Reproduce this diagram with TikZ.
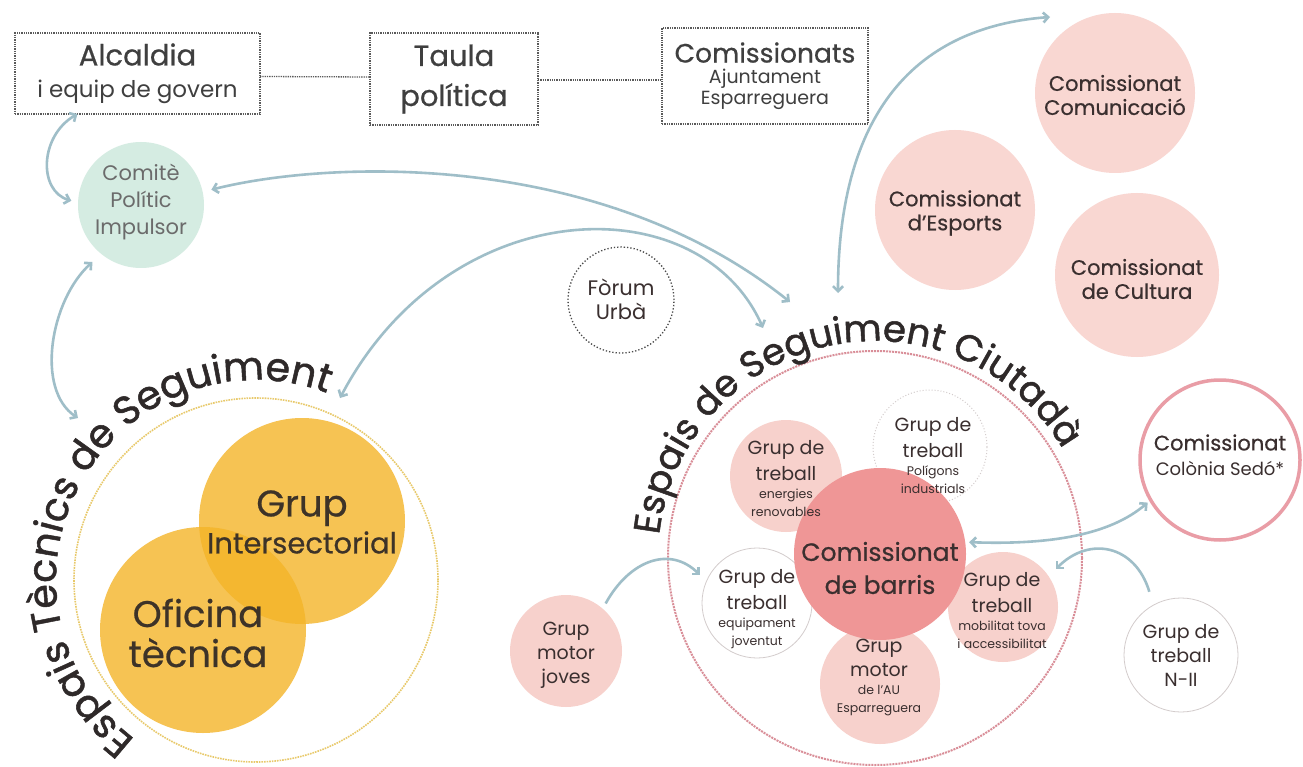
\documentclass[tikz,border=0pt]{standalone}
\usepackage{fontspec}
\setmainfont{Poppins}
\newfontfamily\titlef[FakeBold=1.3]{Poppins}
\newfontfamily\medf[FakeBold=0.6]{Poppins}
\usetikzlibrary{arrows.meta,decorations.text,calc}
\newcommand\fsz[2]{\fontsize{#1}{#2}\selectfont}
\definecolor{boxgray}{HTML}{5A5A5A}
\definecolor{boxtext}{HTML}{3F3F3F}
\definecolor{textdark}{HTML}{3A2F2F}
\definecolor{comtext}{HTML}{6B6B6B}
\definecolor{arrowc}{HTML}{9FBEC8}
\definecolor{mint}{HTML}{D5ECE2}
\definecolor{pinkC}{HTML}{F9D7D2}
\definecolor{pinkL}{HTML}{F7D1CC}
\definecolor{barrisC}{HTML}{EF9696}
\definecolor{sedoC}{HTML}{E99DA6}
\definecolor{yel}{HTML}{F4B428}
\definecolor{yeldot}{HTML}{E8C96A}
\definecolor{pinkdot}{HTML}{D98E98}
\definecolor{foradot}{HTML}{4A4A4A}
\definecolor{lightline}{HTML}{D3CCCC}
\definecolor{titlec}{HTML}{2E2929}
\definecolor{yeltext}{HTML}{3D3328}
\begin{document}
\begin{tikzpicture}[x=1pt,y=-1pt,
  box/.style={draw=boxgray, densely dotted, line width=1.3pt, inner sep=0pt, outer sep=0pt, align=center, text=boxtext},
  circ/.style={circle, inner sep=0pt, outer sep=0pt, minimum size=#1},
  txt/.style={align=center, text=textdark, inner sep=0pt, outer sep=0pt},
  arr/.style={draw=arrowc, line width=2.6pt, >={Straight Barb[length=5pt,width=10pt]}},
  conn/.style={draw=boxgray, densely dotted, line width=1.3pt}]
\fill[white] (0,0) rectangle (1303,767);
\useasboundingbox (0,0) rectangle (1303,767);

% big group circles
\node[circ=364pt, draw=yeldot, densely dotted, line width=1.6pt] (tecn) at (256,580) {};
\node[circ=414pt, draw=pinkdot, densely dotted, line width=2pt] (ciut) at (875,558) {};
\node[circ=206pt, fill=yel, fill opacity=0.8] (grup) at (302,521) {};
\node[circ=206pt, fill=yel, fill opacity=0.8] (ofic) at (203,630) {};

% other circles
\node[circ=126pt, fill=mint] (comite) at (141,205) {};
\node[circ=160pt, fill=pinkC] (comunic) at (1115,93) {};
\node[circ=160pt, fill=pinkC] (esports) at (955,210) {};
\node[circ=164pt, fill=pinkC] (cultura) at (1137,275) {};
\node[circ=160pt, draw=sedoC, line width=3.5pt, fill=white] (sedo) at (1220,460) {};
\node[circ=114pt, draw=lightline, line width=0.8pt] (n2) at (1181,655) {};
\node[circ=112pt, fill=pinkL] (joves) at (566,651) {};
\node[circ=106pt, draw=foradot, dotted, line width=1.3pt] (forum) at (621,300) {};
\node[circ=112pt, fill=pinkL] (energ) at (786,476) {};
\node[circ=114pt, draw=lightline, dotted, line width=1pt] (polig) at (930,447) {};
\node[circ=110pt, draw=lightline, line width=0.8pt] (equip) at (757,603) {};
\node[circ=110pt, fill=pinkL] (mob) at (1003,607) {};
\node[circ=120pt, fill=pinkL] (motor) at (880,684) {};
\node[circ=172pt, fill=barrisC] (barris) at (880,554) {};

% boxes
\node[box, minimum width=245pt, minimum height=81pt, font=\fsz{23}{32}] (alc) at (137.5,73.5) {{\medf\fsz{29}{30}Alcaldia}\\i equip de govern};
\node[box, minimum width=168pt, minimum height=92pt, font=\medf\fsz{29}{40}] (taula) at (454,79) {Taula\\política};
\node[box, minimum width=206pt, minimum height=96pt, font=\fsz{19}{21}] (comiss) at (765,76) {{\medf\fsz{26.5}{30}Comissionats}\\Ajuntament\\Esparreguera};
\draw[conn] ([yshift=-3pt]alc.east) -- ([yshift=2pt]taula.west);
\draw[conn] ([yshift=-1pt]taula.east) -- ([yshift=-4pt]comiss.west);

% arrow free ends
\coordinate (tIn) at (78,418);
\coordinate (tOut) at (340,398);
\coordinate (cIn1) at (790,302);
\coordinate (cIn2) at (763,328);
\coordinate (cOut) at (838,293);
\coordinate (comTip) at (1050,17);

\draw[arr,<->,shorten >=7pt] (alc.214) .. controls +(-38,22) and +(-40,-12) .. (comite.178);
\draw[arr,<->,shorten <=12pt] (comite.231) .. controls +(-51,46) and +(-43,-28) .. (tIn);
\draw[arr,<->,shorten <=9pt] (comite.12) .. controls +(127,-32) and +(-190,-152) .. (cIn1);
\draw[arr,<->] (tOut) .. controls +(110,-208) and +(-63,-143) .. (cIn2);
\draw[arr,<->] (cOut) .. controls +(0,-133) and +(-170,13) .. (comTip);
\draw[arr,<->,shorten <=4pt,shorten >=4pt] (barris.8) .. controls +(85,3) and +(-41,35) .. (sedo.210);
\draw[arr,->,shorten <=14pt,shorten >=10pt] (n2.119) .. controls +(-18,-60) and +(41,-41) .. (mob.34);
\draw[arr,->,shorten <=6pt,shorten >=9pt] (joves.49) .. controls +(27,-49) and +(-36,-36) .. (equip.157);

% texts
\node[txt, text=comtext, font=\fsz{21}{27}] (comite-t) at (141,202) {Comitè\\Polític\\Impulsor};
\node[txt, font=\medf\fsz{21}{24}] (comunic-t) at (1115,95) {Comissionat\\Comunicació};
\node[txt, font=\medf\fsz{21}{24}] (esports-t) at (955,213) {Comissionat\\d’Esports};
\node[txt, font=\medf\fsz{21}{24}] (cultura-t) at (1137,279) {Comissionat\\de Cultura};
\node[txt, font=\fsz{18}{25}] (sedo-t) at (1220,455) {{\medf\fsz{21}{24}Comissionat}\\Colònia Sedó*};
\node[txt, font=\medf\fsz{25}{33}] (barris-t) at (880,568) {Comissionat\\de barris};
\node[txt, text=yeltext, font=\medf\fsz{29}{37}] (grup-t) at (302,522) {{\fsz{37}{40}Grup}\\Intersectorial};
\node[txt, text=yeltext, font=\medf\fsz{37}{40}] (ofic-t) at (198,633) {Oficina\\tècnica};
\node[txt, font=\fsz{21}{24}] (forum-t) at (621,299) {Fòrum\\Urbà};
\node[txt, font=\fsz{19}{24}] (joves-t) at (566,655) {Grup\\motor\\joves};
\node[txt, font=\fsz{19}{24}] (n2-t) at (1181,655) {Grup de\\treball\\N-II};
\node[txt, font=\fsz{12.5}{18}] (energ-t) at (786,479) {{\fsz{19}{20}Grup de}\\[6pt]{\fsz{19}{20}treball}\\energies\\renovables};
\node[txt, font=\fsz{12.5}{18}] (polig-t) at (933,456) {{\fsz{19}{20}Grup de}\\[6pt]{\fsz{19}{20}treball}\\Polígons\\industrials};
\node[txt, font=\fsz{12.5}{18}] (equip-t) at (757,609) {{\fsz{19}{20}Grup de}\\[6pt]{\fsz{19}{20}treball}\\equipament\\joventut};
\node[txt, font=\fsz{12.5}{18}] (mob-t) at (1002,611) {{\fsz{19}{20}Grup de}\\[6pt]{\fsz{19}{20}treball}\\mobilitat tova\\i accessibilitat};
\node[txt, font=\fsz{12.5}{18}] (motor-t) at (879,677) {{\fsz{19}{20}Grup}\\[6pt]{\fsz{19}{20}motor}\\de l’AU\\Esparreguera};

% arc titles
\path[decorate, decoration={text along path, text align=center, text color=titlec, text={|\titlef\fsz{39.5}{40}|Espais Tècnics de Seguiment}}] ([shift={(tecn.center)}]109:200) arc[start angle=109, end angle=309, radius=200];
\path[decorate, decoration={text along path, text align=center, text color=titlec, text={|\titlef\fsz{37}{37}|Espais de Seguiment Ciutadà}}] ([shift={(ciut.center)}]158:217) arc[start angle=158, end angle=358, radius=217];
\end{tikzpicture}
\end{document}
